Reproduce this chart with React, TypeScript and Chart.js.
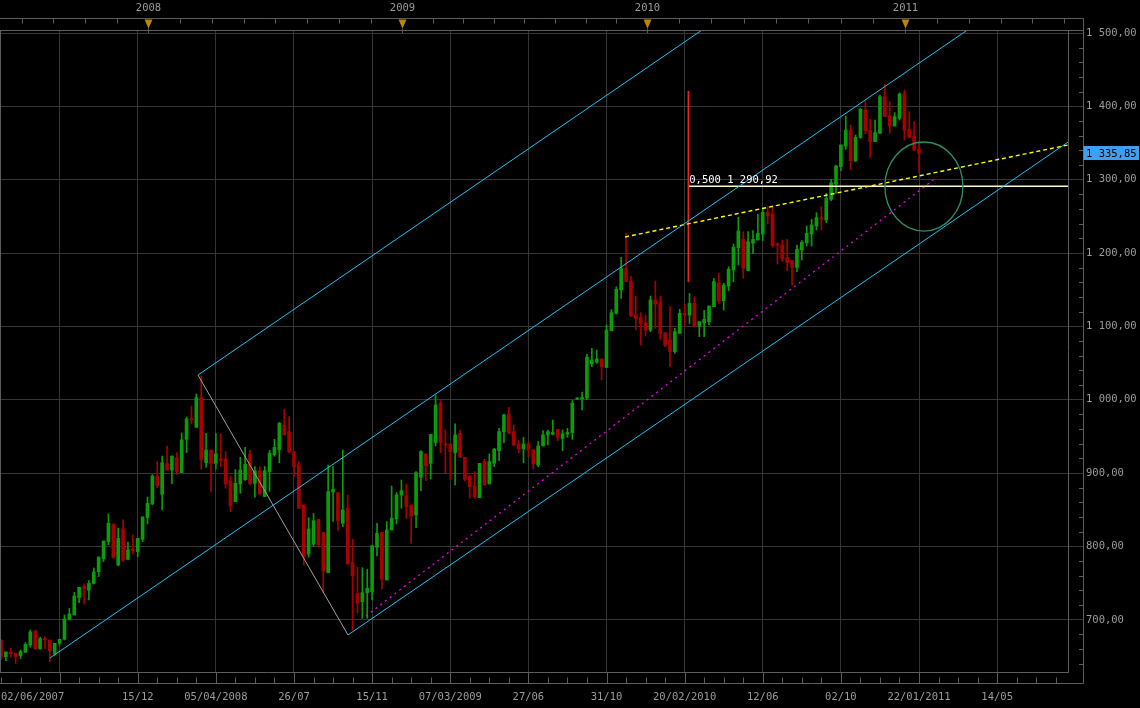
import React, { useEffect, useRef } from 'react';
import { Chart, registerables } from 'chart.js';

Chart.register(...registerables);

// Weekly candles (index 0 = week of 02/06/2007)
const opens = [
  671.5, 649.7, 656.1, 654.3, 651.1, 656.1, 665.6, 684.3, 660.6, 674.3,
  672.4, 653.4, 667.9, 673.4, 700.6, 706.5, 730.2, 745.6, 740.6, 749.7,
  765.6, 783.4, 806.5, 830.6, 774.7, 823.8, 782.4, 796.5, 792.9, 809.7,
  839.3, 857.9, 896.0, 871.1, 913.3, 904.2, 920.6, 900.6, 946.0, 974.5,
  962.4, 1002.9, 914.2, 931.5, 913.3, 919.2, 919.2, 889.3, 861.0, 885.2,
  891.0, 926.0, 886.0, 903.0, 868.0, 902.0, 925.0, 932.0, 965.6, 956.5,
  929.2, 911.0, 856.5, 789.7, 803.0, 837.0, 819.0, 764.3, 874.0, 873.3,
  831.5, 852.0, 778.0, 736.0, 724.7, 737.0, 738.4, 798.8, 819.3, 754.3,
  822.4, 837.4, 870.0, 868.8, 856.5, 842.9, 894.2, 926.1, 913.3, 941.5,
  995.2, 939.7, 939.7, 927.9, 954.2, 921.5, 896.1, 882.4, 866.5, 915.6,
  885.2, 913.3, 930.6, 956.5, 980.2, 956.5, 939.7, 932.9, 939.7, 931.5,
  911.0, 937.0, 952.0, 952.9, 959.7, 947.4, 953.3, 955.2, 1001.0, 1001.0,
  1002.0, 1049.0, 1051.0, 1055.5, 1044.0, 1094.0, 1117.8, 1149.6, 1179.0, 1161.9,
  1115.5, 1111.9, 1105.0, 1095.0, 1136.0, 1132.3, 1091.4, 1081.4, 1065.5, 1090.5,
  1117.8, 1115.5, 1131.4, 1100.5, 1105.0, 1106.4, 1126.9, 1159.6, 1135.0, 1155.0,
  1176.9, 1207.3, 1218.7, 1176.0, 1213.3, 1217.8, 1226.0, 1255.5, 1253.2, 1212.3,
  1211.0, 1194.0, 1189.6, 1180.5, 1204.0, 1214.0, 1226.0, 1236.8, 1248.2, 1245.0,
  1273.2, 1294.1, 1317.7, 1345.9, 1367.7, 1325.9, 1357.7, 1395.0, 1366.8, 1351.8,
  1363.2, 1413.2, 1386.8, 1373.2, 1383.6, 1416.8, 1368.6, 1359.5, 1341.4,
];
const highs = [
  673.3, 656.1, 661.1, 654.3, 658.8, 668.8, 686.1, 686.1, 676.1, 677.0,
  672.4, 667.9, 673.4, 706.5, 715.6, 737.4, 744.3, 747.9, 753.3, 770.6,
  785.6, 807.4, 844.3, 830.6, 825.2, 836.1, 806.1, 815.6, 811.1, 840.2,
  867.4, 897.9, 915.6, 923.3, 936.9, 923.3, 927.9, 954.7, 976.5, 991.5,
  1007.9, 1032.4, 954.2, 931.5, 954.2, 953.3, 929.2, 896.1, 905.0, 921.5,
  935.0, 931.0, 909.0, 909.0, 909.0, 931.0, 946.0, 969.0, 987.0, 977.0,
  929.2, 915.6, 856.5, 839.3, 845.0, 837.0, 819.0, 911.0, 909.0, 873.3,
  931.5, 870.0, 810.0, 771.6, 771.0, 769.0, 801.0, 831.5, 819.3, 833.8,
  882.4, 873.3, 890.6, 885.2, 856.5, 902.0, 930.6, 926.1, 952.9, 1006.5,
  998.8, 958.8, 939.7, 967.0, 958.8, 921.5, 896.1, 902.0, 913.3, 918.8,
  926.1, 933.8, 961.0, 980.6, 989.7, 965.6, 944.2, 948.8, 942.9, 932.4,
  942.9, 957.9, 958.8, 972.4, 959.7, 958.8, 961.0, 998.8, 1003.0, 1010.6,
  1062.0, 1070.0, 1067.8, 1055.5, 1102.0, 1123.0, 1154.0, 1194.0, 1226.9, 1168.7,
  1141.4, 1118.7, 1115.5, 1141.4, 1161.9, 1141.4, 1091.4, 1126.9, 1097.3, 1123.3,
  1130.0, 1145.0, 1140.5, 1106.4, 1122.0, 1127.8, 1165.5, 1172.3, 1158.7, 1181.4,
  1212.3, 1248.7, 1229.1, 1229.1, 1230.5, 1253.2, 1261.0, 1263.2, 1262.3, 1214.0,
  1217.8, 1218.7, 1189.6, 1211.0, 1216.9, 1236.8, 1245.9, 1255.0, 1263.2, 1281.4,
  1300.4, 1320.0, 1347.3, 1386.8, 1374.5, 1360.9, 1397.3, 1407.7, 1382.3, 1381.4,
  1415.4, 1430.4, 1406.4, 1391.4, 1418.6, 1422.3, 1392.7, 1379.1, 1351.8,
];
const lows = [
  646.0, 644.3, 648.8, 640.2, 647.0, 655.2, 662.5, 659.7, 659.7, 660.6,
  642.5, 651.5, 665.2, 672.5, 699.7, 706.5, 723.4, 721.5, 727.0, 748.8,
  758.8, 779.3, 802.0, 783.8, 773.4, 779.3, 781.5, 789.7, 786.1, 806.5,
  830.6, 857.0, 880.0, 849.7, 904.2, 885.6, 897.9, 900.6, 927.9, 967.0,
  962.4, 905.2, 907.9, 874.7, 905.2, 908.8, 879.3, 847.4, 861.0, 872.4,
  890.0, 884.0, 867.0, 871.5, 868.0, 875.0, 923.0, 914.0, 952.0, 928.0,
  895.0, 852.0, 775.0, 785.2, 800.0, 799.0, 737.0, 764.3, 834.0, 821.5,
  827.0, 776.0, 686.0, 709.0, 702.0, 702.0, 727.0, 787.0, 742.0, 754.3,
  822.4, 830.6, 852.0, 838.4, 804.3, 825.6, 876.1, 889.7, 892.0, 937.0,
  927.9, 900.6, 891.5, 883.8, 921.5, 889.7, 865.6, 865.6, 866.5, 883.8,
  885.2, 908.8, 917.0, 941.5, 954.2, 937.0, 927.9, 914.2, 922.4, 905.6,
  908.8, 937.0, 938.3, 952.0, 944.2, 930.6, 948.8, 946.0, 1000.0, 986.0,
  1000.0, 1045.0, 1049.6, 1027.0, 1044.0, 1094.0, 1116.9, 1138.3, 1161.0, 1113.3,
  1095.1, 1074.6, 1086.9, 1092.8, 1097.3, 1082.3, 1072.3, 1045.0, 1063.3, 1090.5,
  1099.6, 1104.2, 1099.6, 1086.0, 1086.0, 1102.0, 1126.9, 1131.4, 1122.3, 1148.7,
  1161.0, 1183.7, 1165.5, 1176.0, 1199.6, 1217.8, 1216.9, 1239.6, 1207.8, 1185.0,
  1188.3, 1176.0, 1156.4, 1174.6, 1190.5, 1209.6, 1209.6, 1231.4, 1231.4, 1241.4,
  1271.4, 1281.4, 1312.3, 1341.4, 1314.1, 1324.5, 1356.4, 1362.3, 1330.5, 1351.8,
  1363.2, 1385.9, 1363.2, 1373.2, 1381.4, 1354.1, 1357.7, 1339.5, 1309.5,
];
const closes = [
  648.8, 656.1, 653.8, 649.7, 656.6, 666.5, 683.4, 660.6, 674.3, 672.9,
  657.9, 667.9, 673.4, 701.1, 707.9, 732.4, 744.3, 742.4, 749.7, 765.2,
  785.6, 807.4, 831.5, 785.2, 811.0, 781.5, 795.2, 793.8, 811.1, 840.2,
  858.8, 896.1, 882.9, 914.2, 904.2, 923.3, 901.5, 945.2, 973.8, 972.5,
  1002.9, 918.8, 931.5, 913.3, 926.1, 917.0, 885.2, 855.2, 886.0, 904.2,
  912.0, 886.0, 903.0, 871.5, 903.0, 927.0, 935.0, 968.0, 952.0, 929.2,
  908.8, 852.0, 786.0, 823.8, 835.0, 802.0, 766.0, 874.7, 878.0, 835.2,
  849.7, 776.0, 760.0, 722.5, 737.0, 743.0, 801.0, 817.9, 755.2, 822.4,
  838.4, 870.2, 876.0, 854.2, 841.5, 900.6, 929.2, 909.7, 952.9, 992.9,
  941.5, 938.3, 929.2, 952.0, 921.5, 891.5, 881.5, 867.9, 913.3, 883.8,
  915.6, 932.4, 956.5, 979.2, 954.2, 938.3, 932.9, 939.7, 931.5, 912.4,
  937.0, 952.0, 956.5, 955.2, 948.8, 953.3, 955.2, 995.2, 1002.0, 1003.0,
  1058.0, 1054.0, 1055.5, 1045.0, 1095.0, 1118.7, 1150.5, 1179.0, 1161.0, 1114.6,
  1111.0, 1103.3, 1095.0, 1136.0, 1130.5, 1090.5, 1074.6, 1065.5, 1092.8, 1117.8,
  1115.5, 1131.4, 1099.6, 1106.4, 1109.6, 1127.8, 1161.0, 1135.0, 1156.4, 1177.8,
  1207.8, 1230.0, 1179.2, 1215.5, 1218.7, 1226.9, 1255.5, 1250.5, 1210.0, 1211.0,
  1192.8, 1187.0, 1180.5, 1205.0, 1214.6, 1226.8, 1238.2, 1248.2, 1246.0, 1274.5,
  1295.9, 1318.6, 1347.3, 1367.7, 1325.9, 1357.7, 1395.9, 1366.8, 1351.8, 1364.1,
  1413.2, 1385.9, 1373.2, 1385.9, 1416.8, 1367.7, 1357.7, 1340.5, 1335.85,
];

// Bottom axis labels (bar index -> text)
const xLabelIdx = [0, 28, 44, 60, 76, 92, 108, 124, 140, 156, 172, 188, 204];
const xLabelText = ['02/06/2007', '15/12', '05/04/2008', '26/07', '15/11', '07/03/2009', '27/06',
  '31/10', '20/02/2010', '12/06', '02/10', '22/01/2011', '14/05'];

// Top axis: year boundaries (bar index)
const yearIdx = [30.2, 82.2, 132.2, 185.2];
const yearText = ['2008', '2009', '2010', '2011'];

// Price axis
const yTicks = [700, 800, 900, 1000, 1100, 1200, 1300, 1400, 1500];

// Drawn studies, anchors in (bar index, price)
const forkMiddle = [{ x: 10.03, y: 647.9 }, { x: 230, y: 1650.3 }];
const forkUpper = [{ x: 40.34, y: 1033.7 }, { x: 230, y: 1898.0 }];
const forkLower = [{ x: 71.06, y: 679.3 }, { x: 230, y: 1403.6 }];
const forkBase = [{ x: 40.34, y: 1033.7 }, { x: 71.06, y: 679.3 }];
const supportLine = [{ x: 74.75, y: 705.2 }, { x: 191.7, y: 1303.7 }];
const trendLine = [{ x: 127.8, y: 1221.9 }, { x: 218.5, y: 1347.3 }];
const fiboVertical = [{ x: 140.75, y: 1160.5 }, { x: 140.75, y: 1420.9 }];
const fiboLevel = [{ x: 140.75, y: 1290.92 }, { x: 218.5, y: 1290.92 }];
const fiboText = '0,500 1 290,92';
const circleCenter = [189.0, 1290.7];
const circleRadius = [7.99, 60.7];

const GREEN = '#0a9c0a';
const RED = '#a80000';
const GRID = '#363636';
const FRAME = '#5c5c5c';
const TEXT = '#9c9c9c';
const FONT = '10.5px "DejaVu Sans Mono"';

function fmt(v: number): string {
  const s = v.toFixed(2);
  const [ip, dp] = s.split('.');
  const withSp = ip.replace(/\B(?=(\d{3})+(?!\d))/g, ' ');
  return withSp + ',' + dp;
}

const overlay = {
  id: 'overlay',
  beforeDraw(chart: any) {
    const { ctx, width, height } = chart;
    ctx.save();
    ctx.fillStyle = '#000';
    ctx.fillRect(0, 0, width, height);
    ctx.restore();
  },
  afterDatasetsDraw(chart: any) {
    const { ctx, chartArea: a, scales } = chart;
    const xs = scales.x, ys = scales.y;
    ctx.save();
    ctx.beginPath();
    ctx.rect(a.left, a.top, a.right - a.left, a.bottom - a.top);
    ctx.clip();
    const cx = xs.getPixelForValue(circleCenter[0]);
    const cy = ys.getPixelForValue(circleCenter[1]);
    const rx = Math.abs(xs.getPixelForValue(circleCenter[0] + circleRadius[0]) - cx);
    const ry = Math.abs(ys.getPixelForValue(circleCenter[1] + circleRadius[1]) - cy);
    ctx.strokeStyle = '#2f8f62';
    ctx.lineWidth = 1.3;
    ctx.beginPath();
    ctx.ellipse(cx, cy, rx, ry, 0, 0, Math.PI * 2);
    ctx.stroke();
    // fibonacci level text
    const tx = xs.getPixelForValue(fiboLevel[0].x);
    const ty = ys.getPixelForValue(fiboLevel[0].y);
    ctx.fillStyle = '#ffffff';
    ctx.font = FONT;
    ctx.textAlign = 'left';
    ctx.textBaseline = 'alphabetic';
    ctx.fillText(fiboText, tx + 1, ty - 3);
    ctx.restore();
  },
  afterDraw(chart: any) {
    const { ctx, chartArea: a, scales } = chart;
    const xs = scales.x, ys = scales.y;
    const axisX = Math.round(a.right) + 15.5;
    const topY = Math.round(a.top) - 11.5;
    const botY = Math.round(a.bottom) + 11.5;
    ctx.save();
    ctx.lineWidth = 1;
    ctx.strokeStyle = FRAME;
    const line = (x1: number, y1: number, x2: number, y2: number) => {
      ctx.beginPath(); ctx.moveTo(x1, y1); ctx.lineTo(x2, y2); ctx.stroke();
    };
    line(0, topY, axisX, topY);
    line(0, Math.round(a.top) + 0.5, axisX, Math.round(a.top) + 0.5);
    line(0, botY, axisX, botY);
    line(axisX, topY, axisX, botY);
    line(0.5, a.top, 0.5, a.bottom);
    // bottom axis ticks
    for (let v = 0; v <= 216; v += 4) {
      const px = Math.round(xs.getPixelForValue(v)) + 0.5;
      if (px > a.right) continue;
      const major = v >= 12 && (v - 12) % 16 === 0;
      line(px, major ? a.bottom : botY - 6, px, botY);
    }
    // price axis minor ticks
    for (let v = 640; v <= 1500; v += 20) {
      if (v % 100 === 0) continue;
      const py = Math.round(ys.getPixelForValue(v)) + 0.5;
      line(axisX - 4.5, py, axisX, py);
    }
    // top axis ticks and years
    const allTop: number[] = [];
    const step = (yearIdx[1] - yearIdx[0]) / 8;
    for (let v = yearIdx[0] - step; v > -1; v -= step) allTop.push(v);
    for (let k = 0; k < yearIdx.length; k++) {
      const next = k + 1 < yearIdx.length ? yearIdx[k + 1] : 230;
      const st = k + 1 < yearIdx.length ? (next - yearIdx[k]) / 8 : step;
      for (let v = yearIdx[k] + st; v < next - 0.5; v += st) allTop.push(v);
    }
    for (const v of allTop) {
      const px = Math.round(xs.getPixelForValue(v)) + 0.5;
      if (px > axisX - 2) continue;
      line(px, topY, px, topY + 5);
    }
    ctx.font = FONT;
    ctx.textAlign = 'center';
    ctx.textBaseline = 'middle';
    for (let k = 0; k < yearIdx.length; k++) {
      const px = Math.round(xs.getPixelForValue(yearIdx[k])) + 0.5;
      ctx.fillStyle = TEXT;
      ctx.fillText(yearText[k], px, topY - 10);
      ctx.fillStyle = '#b8860b';
      ctx.beginPath();
      ctx.moveTo(px - 4, topY + 1);
      ctx.lineTo(px + 4, topY + 1);
      ctx.lineTo(px, topY + 10);
      ctx.closePath();
      ctx.fill();
      ctx.strokeStyle = FRAME;
      line(px, topY + 10, px, a.top + 3);
    }
    // last price tag
    const last = closes[closes.length - 1];
    const py = ys.getPixelForValue(last);
    ctx.fillStyle = '#3fa0f2';
    ctx.fillRect(axisX, Math.round(py) - 7, chart.width - axisX - 1, 14);
    ctx.fillStyle = '#000000';
    ctx.textAlign = 'left';
    ctx.fillText(fmt(last), axisX + 2.5, py + 0.5);
    ctx.restore();
  },
};

export default function App() {
  const ref = useRef<HTMLCanvasElement | null>(null);
  useEffect(() => {
    if (!ref.current) return;
    const colors = closes.map((c, i) => (c >= opens[i] ? GREEN : RED));
    const lineDs = (data: any, color: string, width: number, dash: number[] = []) => ({
      type: 'line' as const,
      data,
      borderColor: color,
      borderWidth: width,
      borderDash: dash,
      pointRadius: 0,
      fill: false,
      tension: 0,
      clip: 0,
      order: 1,
    });
    const chart = new Chart(ref.current, {
      type: 'bar',
      data: {
        datasets: [
          lineDs(forkMiddle, '#1ec3f5', 1),
          lineDs(forkUpper, '#1ec3f5', 1),
          lineDs(forkLower, '#1ec3f5', 1),
          lineDs(forkBase, '#a0a0a0', 1),
          lineDs(supportLine, '#ff00ff', 1.2, [2, 4]),
          lineDs(trendLine, '#ffff00', 1.4, [4, 3]),
          lineDs(fiboVertical, '#ff1a1a', 1.5),
          lineDs(fiboLevel, '#fffac8', 1.5),
          {
            type: 'bar' as const,
            data: opens.map((o, i) => ({ x: i, y: [Math.min(o, closes[i]), Math.max(o, closes[i])] })),
            backgroundColor: colors,
            borderWidth: 0,
            barThickness: 3,
            minBarLength: 1,
            grouped: false,
            order: 2,
          },
          {
            type: 'bar' as const,
            data: lows.map((l, i) => ({ x: i, y: [l, highs[i]] })),
            backgroundColor: colors,
            borderWidth: 0,
            barThickness: 1,
            minBarLength: 1,
            grouped: false,
            order: 3,
          },
        ] as any,
      },
      options: {
        animation: false,
        responsive: true,
        maintainAspectRatio: false,
        events: [],
        layout: { padding: { top: 30, left: 0, right: 0, bottom: 0 } },
        plugins: { legend: { display: false }, tooltip: { enabled: false } },
        scales: {
          x: {
            type: 'linear',
            position: 'bottom',
            min: -0.2048,
            max: 218.51,
            offset: false,
            afterBuildTicks: (s: any) => {
              const t = [];
              for (let v = 0; v <= 216; v += 4) t.push({ value: v });
              s.ticks = t;
            },
            afterFit: (s: any) => {
              s.height = 36;
              s.paddingLeft = 0;
              s.paddingRight = 0;
            },
            grid: {
              offset: false,
              drawTicks: false,
              color: (c: any) => {
                const v = c.tick ? c.tick.value : -1;
                return v >= 12 && (v - 12) % 16 === 0 ? GRID : 'rgba(0,0,0,0)';
              },
            },
            border: { display: true, color: FRAME },
            ticks: {
              autoSkip: false,
              maxRotation: 0,
              minRotation: 0,
              align: 'inner',
              padding: 19,
              color: TEXT,
              font: { family: 'DejaVu Sans Mono', size: 10.5 },
              callback: (v: any) => {
                const k = xLabelIdx.indexOf(Number(v));
                return k >= 0 ? xLabelText[k] : '';
              },
            },
          },
          y: {
            type: 'linear',
            position: 'right',
            min: 628.8,
            max: 1504.1,
            beginAtZero: false,
            afterBuildTicks: (s: any) => { s.ticks = yTicks.map((v) => ({ value: v })); },
            afterFit: (s: any) => { s.width = 72; },
            grid: { color: GRID, tickColor: GRID, tickLength: 15, drawTicks: true },
            border: { display: true, color: FRAME },
            ticks: {
              padding: 3,
              color: TEXT,
              font: { family: 'DejaVu Sans Mono', size: 10.5 },
              callback: (v: any) => fmt(Number(v)),
            },
          },
        },
      } as any,
      plugins: [overlay],
    });
    return () => chart.destroy();
  }, []);
  return (
    <div style={{ position: 'fixed', left: 0, top: 0, width: 1140, height: 708, background: '#000' }}>
      <canvas ref={ref} />
    </div>
  );
}
